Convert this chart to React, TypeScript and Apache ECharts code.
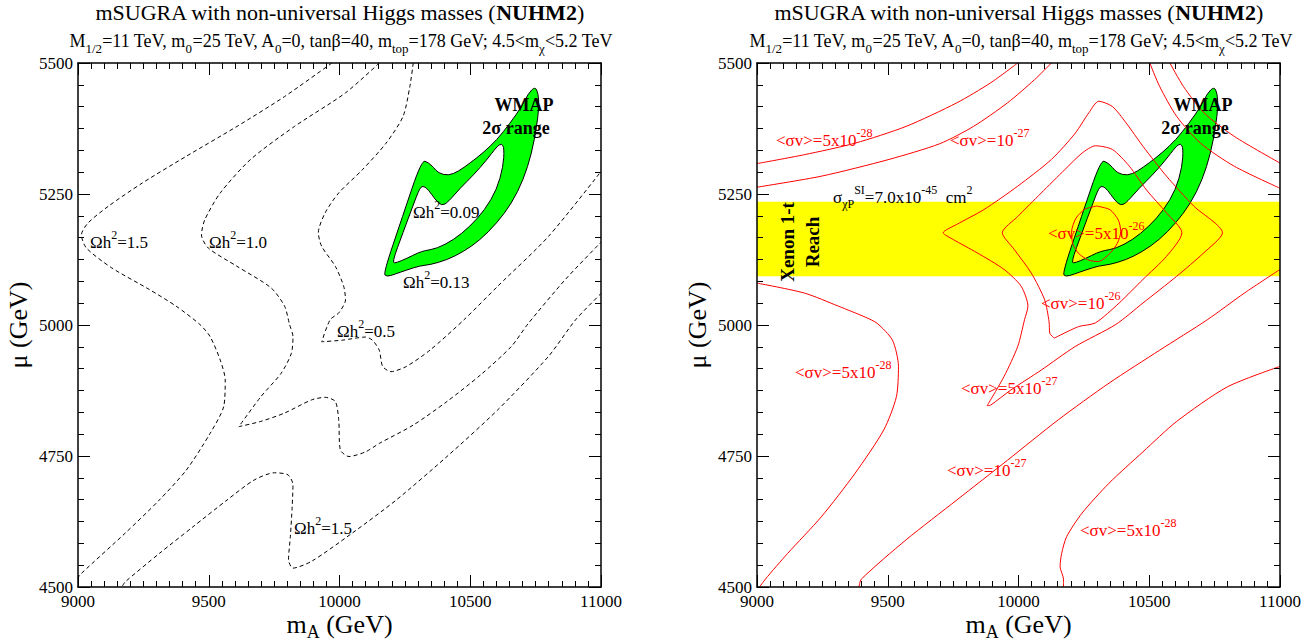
import React, { useEffect, useRef } from "react";
import * as echarts from "echarts";

const FONT = '"Liberation Serif", "Times New Roman", Times, serif';

// axes
const X_RANGE = [9000, 11000];
const Y_RANGE = [4500, 5500];
const X_STEP = 500;
const Y_STEP = 250;

// ---------- left panel: relic density contours (Omega h^2) ----------
const omega15Upper: number[][] = [
  [9971, 5500], [9790, 5436], [9608, 5379], [9414, 5322], [9246, 5271], [9117, 5227],
  [9039, 5195], [9013, 5172], [9032, 5147], [9129, 5109], [9272, 5068], [9375, 5036],
  [9466, 5001], [9505, 4978], [9544, 4933], [9563, 4895], [9557, 4844], [9505, 4793],
  [9414, 4723], [9311, 4666], [9181, 4603], [9013, 4526], [9000, 4518],
];
const omega10: number[][] = [
  [10152, 5500], [10023, 5443], [9828, 5379], [9660, 5316], [9544, 5252], [9485, 5201],
  [9472, 5172], [9498, 5147], [9608, 5112], [9738, 5071], [9790, 5036], [9809, 5001],
  [9822, 4978], [9816, 4946], [9777, 4908], [9699, 4863], [9615, 4806], [9699, 4816],
  [9790, 4832], [9893, 4857], [9945, 4862], [9984, 4854], [9997, 4819], [10003, 4762],
  [10036, 4749], [10100, 4758], [10152, 4774], [10282, 4809], [10411, 4854], [10540, 4905],
  [10657, 4959], [10722, 5003], [10864, 5087], [11000, 5158],
];
const omega05: number[][] = [
  [10282, 5500], [10269, 5455], [10243, 5398], [10178, 5347], [10087, 5296], [9997, 5252],
  [9945, 5214], [9919, 5176], [9932, 5150], [9984, 5112], [10016, 5074], [10023, 5048],
  [9997, 5023], [9964, 5010], [9932, 4968], [10010, 4971], [10100, 4977], [10126, 4971],
  [10152, 4952], [10165, 4921], [10197, 4911], [10256, 4921], [10346, 4952], [10476, 5010],
  [10605, 5074], [10799, 5169], [11000, 5293],
];
const omega15Lower: number[][] = [
  [9170, 4502], [9181, 4510], [9311, 4564], [9440, 4615], [9570, 4666], [9673, 4704],
  [9751, 4718], [9803, 4714], [9822, 4695], [9819, 4653], [9812, 4596], [9805, 4552],
  [9822, 4536], [9893, 4549], [10049, 4603], [10217, 4666], [10411, 4749], [10605, 4838],
  [10799, 4940], [10903, 5010], [11000, 5060],
];

// ---------- WMAP 2 sigma band (outer edge and inner edge) ----------
const wmapOuter: number[][] = [
  [10168, 5099], [10241, 5207], [10314, 5315], [10340, 5310], [10359, 5301], [10378, 5290],
  [10416, 5285], [10454, 5293], [10499, 5309], [10550, 5329], [10601, 5353], [10652, 5385],
  [10697, 5417], [10722, 5442], [10748, 5455], [10760, 5442], [10763, 5417], [10754, 5379],
  [10735, 5328], [10703, 5277], [10658, 5232], [10601, 5194], [10537, 5162], [10474, 5140],
  [10410, 5124], [10346, 5115], [10308, 5113], [10257, 5105], [10212, 5097], [10180, 5092],
];
const wmapInner: number[][] = [
  [10200, 5118], [10244, 5178], [10282, 5229], [10308, 5263], [10323, 5265], [10340, 5258],
  [10365, 5240], [10391, 5227], [10416, 5235], [10461, 5261], [10512, 5286], [10563, 5315],
  [10601, 5340], [10620, 5347], [10630, 5337], [10626, 5302], [10601, 5258], [10556, 5220],
  [10499, 5188], [10435, 5162], [10372, 5146], [10327, 5142], [10301, 5138], [10257, 5127],
  [10219, 5119],
];

// ---------- right panel: <sigma v> contours ----------
const sv528UpperLeft: number[][] = [
  [9000, 5308], [9181, 5325], [9375, 5347], [9570, 5379], [9764, 5424], [9893, 5462], [9997, 5500],
];
const sv27UpperLeft: number[][] = [
  [9000, 5263], [9246, 5284], [9505, 5316], [9699, 5346], [9828, 5379], [9958, 5424],
  [10061, 5468], [10126, 5500],
];
const sv27UpperRight: number[][] = [
  [10502, 5500], [10540, 5455], [10605, 5398], [10696, 5347], [10825, 5303], [11000, 5261],
];
const sv528UpperRight: number[][] = [
  [10579, 5500], [10631, 5455], [10709, 5405], [10825, 5360], [11000, 5309],
];
const sv527: number[][] = [
  [9880, 4846], [9945, 4902], [9997, 4959], [10023, 5010], [10036, 5036], [10010, 5074],
  [9945, 5106], [9841, 5138], [9751, 5163], [9712, 5176], [9764, 5192], [9867, 5220],
  [9997, 5265], [10126, 5316], [10217, 5366], [10269, 5405], [10307, 5427], [10359, 5417],
  [10411, 5386], [10476, 5341], [10566, 5284], [10670, 5227], [10780, 5176], [10709, 5138],
  [10605, 5093], [10476, 5042], [10372, 5001], [10217, 4959], [10087, 4914], [9971, 4876],
  [9893, 4847], [9880, 4846],
];
const sv26: number[][] = [
  [10137, 4975], [10120, 4984], [10117, 5006], [10100, 5048], [10049, 5099], [9984, 5144],
  [9938, 5176], [9997, 5207], [10087, 5252], [10178, 5297], [10243, 5328], [10294, 5342],
  [10359, 5335], [10424, 5303], [10489, 5258], [10566, 5214], [10625, 5176], [10566, 5131],
  [10476, 5087], [10385, 5042], [10294, 5004], [10230, 4997], [10137, 4975],
];
const sv526: number[][] = [
  [10299, 5227], [10350, 5220], [10382, 5200], [10391, 5178], [10378, 5156], [10350, 5137],
  [10305, 5121], [10267, 5124], [10229, 5137], [10207, 5156], [10203, 5178], [10220, 5204],
  [10254, 5221], [10299, 5227],
];
const sv528LowerLeft: number[][] = [
  [9000, 5080], [9181, 5061], [9311, 5036], [9414, 5015], [9460, 5003], [9518, 4971],
  [9541, 4921], [9533, 4863], [9485, 4800], [9375, 4717], [9246, 4634], [9117, 4564],
  [9032, 4515], [9010, 4500],
];
const sv528LowerRight: number[][] = [
  [10172, 4500], [10172, 4515], [10159, 4539], [10165, 4564], [10184, 4596], [10243, 4641],
  [10346, 4698], [10476, 4758], [10605, 4816], [10799, 4882], [11000, 4921],
];
const sv27Lower: number[][] = [
  [9390, 4500], [9399, 4515], [9570, 4590], [9764, 4666], [9958, 4742], [10152, 4819],
  [10346, 4889], [10540, 4952], [10722, 5010], [10864, 5061], [11000, 5106],
];

// Xenon 1-t reach band in mu
const xenonBand = [5093, 5235];

// ---------- helpers ----------
function richSet(fs: number, color: string, lh?: number) {
  const L = lh ?? Math.round(fs * 1.55);
  const s = Math.round(fs * 0.7);
  return {
    n: { fontSize: fs, fontFamily: FONT, fill: color, lineHeight: L, verticalAlign: "middle" },
    B: { fontSize: fs, fontFamily: FONT, fontWeight: "bold", fill: color, lineHeight: L, verticalAlign: "middle" },
    p: { fontSize: s, fontFamily: FONT, fill: color, lineHeight: s, verticalAlign: "top" },
    b: { fontSize: s, fontFamily: FONT, fill: color, lineHeight: s, verticalAlign: "bottom" },
  };
}

function txt(x: number, y: number, text: string, fs: number, color = "#000", align = "left", extra: any = {}) {
  return {
    type: "text",
    x,
    y,
    z: 100,
    silent: true,
    rotation: extra.rotation ?? 0,
    style: {
      text,
      rich: richSet(fs, color, extra.lh),
      fontSize: fs,
      fontFamily: FONT,
      fill: color,
      align,
      verticalAlign: "middle",
    },
  };
}

function plain(x: number, y: number, text: string, fs: number) {
  return {
    type: "text",
    x,
    y,
    z: 100,
    silent: true,
    style: { text, fontSize: fs, fontFamily: FONT, fill: "#000", align: "left", verticalAlign: "middle" },
  };
}

let measureCtx: CanvasRenderingContext2D | null = null;
function measure(text: string, fs: number) {
  if (!measureCtx) measureCtx = document.createElement("canvas").getContext("2d");
  if (!measureCtx) return text.length * fs * 0.5;
  measureCtx.font = `${fs}px ${FONT}`;
  return measureCtx.measureText(text).width;
}

// x-axis title "m_A (GeV)" centred at cx
function xTitle(cx: number, y: number) {
  const fs = 26;
  const sfs = 18;
  const w1 = measure("m", fs);
  const w2 = measure("A", sfs);
  const w3 = measure(" (GeV)", fs);
  const x0 = cx - (w1 + w2 + w3) / 2;
  return [plain(x0, y, "m", fs), plain(x0 + w1, y + 8, "A", sfs), plain(x0 + w1 + w2, y, " (GeV)", fs)];
}

function xAx(grid: number, pos: string, labels: boolean) {
  return {
    type: "value",
    gridIndex: grid,
    position: pos,
    min: X_RANGE[0],
    max: X_RANGE[1],
    interval: X_STEP,
    z: 10,
    axisLine: { show: true, onZero: false, lineStyle: { color: "#000", width: 1.5 } },
    axisTick: { show: true, inside: true, length: 12, lineStyle: { color: "#000", width: 1 } },
    minorTick: { show: true, splitNumber: 10, length: 6, lineStyle: { color: "#000", width: 1 } },
    splitLine: { show: false },
    minorSplitLine: { show: false },
    axisLabel: {
      show: labels,
      color: "#000",
      fontFamily: FONT,
      fontSize: 17,
      margin: 6,
      formatter: (v: number) => String(v),
    },
  };
}

function yAx(grid: number, pos: string, labels: boolean) {
  return {
    type: "value",
    gridIndex: grid,
    position: pos,
    min: Y_RANGE[0],
    max: Y_RANGE[1],
    interval: Y_STEP,
    z: 10,
    axisLine: { show: true, onZero: false, lineStyle: { color: "#000", width: 1.5 } },
    axisTick: { show: true, inside: true, length: 12, lineStyle: { color: "#000", width: 1 } },
    minorTick: { show: true, splitNumber: 6, length: 6, lineStyle: { color: "#000", width: 1 } },
    splitLine: { show: false },
    minorSplitLine: { show: false },
    axisLabel: {
      show: labels,
      color: "#000",
      fontFamily: FONT,
      fontSize: 17,
      margin: 5,
      formatter: (v: number) => String(v),
    },
  };
}

function lineSeries(data: number[][], idx: number, color: string, dashed: boolean) {
  return {
    type: "line",
    data,
    xAxisIndex: idx,
    yAxisIndex: idx,
    showSymbol: false,
    symbol: "none",
    smooth: 0.25,
    silent: true,
    z: 5,
    lineStyle: { color, width: 1, type: dashed ? [4, 3] : "solid" },
  };
}

function signedArea(pts: number[][]) {
  let a = 0;
  for (let i = 0; i < pts.length; i++) {
    const p = pts[i];
    const q = pts[(i + 1) % pts.length];
    a += p[0] * q[1] - q[0] * p[1];
  }
  return a;
}

function smoothRing(pts: number[][]) {
  const n = pts.length;
  const mid = (a: number[], b: number[]) => [(a[0] + b[0]) / 2, (a[1] + b[1]) / 2];
  const m0 = mid(pts[n - 1], pts[0]);
  let d = `M${m0[0].toFixed(2)} ${m0[1].toFixed(2)}`;
  for (let i = 0; i < n; i++) {
    const c = pts[i];
    const m = mid(pts[i], pts[(i + 1) % n]);
    d += ` Q${c[0].toFixed(2)} ${c[1].toFixed(2)} ${m[0].toFixed(2)} ${m[1].toFixed(2)}`;
  }
  return d + " Z";
}

function wmapSeries(idx: number) {
  return {
    type: "custom",
    xAxisIndex: idx,
    yAxisIndex: idx,
    data: [[10000, 5000]],
    z: 3,
    silent: true,
    renderItem: (_p: any, api: any) => {
      const outer = wmapOuter.map((p) => api.coord(p));
      let inner = wmapInner.map((p) => api.coord(p));
      if (Math.sign(signedArea(outer)) === Math.sign(signedArea(inner))) inner = inner.slice().reverse();
      return {
        type: "path",
        shape: { pathData: smoothRing(outer) + " " + smoothRing(inner) },
        style: { fill: "#00ff00", stroke: "#000", lineWidth: 1 },
      };
    },
  };
}

function bandSeries(idx: number) {
  return {
    type: "custom",
    xAxisIndex: idx,
    yAxisIndex: idx,
    data: [[10000, 5000]],
    z: 1,
    silent: true,
    renderItem: (_p: any, api: any) => {
      const a = api.coord([X_RANGE[0], xenonBand[1]]);
      const b = api.coord([X_RANGE[1], xenonBand[0]]);
      return {
        type: "rect",
        shape: { x: a[0], y: a[1], width: b[0] - a[0], height: b[1] - a[1] },
        style: { fill: "#ffff00" },
      };
    },
  };
}

const RED = "#ff0000";
const TITLE = "{n|mSUGRA with non-universal Higgs masses (}{B|NUHM2}{n|)}";
const SUB =
  "{n|M}{b|1/2}{n|=11 TeV, m}{b|0}{n|=25 TeV, A}{b|0}{n|=0, tanβ=40, m}{b|top}{n|=178 GeV; 4.5<m}{b|χ}{n|<5.2 TeV}";

function buildOption() {
  const graphics: any[] = [
    // titles
    txt(339.5, 12, TITLE, 22, "#000", "center"),
    txt(341, 41, SUB, 18, "#000", "center"),
    txt(1018.5, 12, TITLE, 22, "#000", "center"),
    txt(1021, 41, SUB, 18, "#000", "center"),
    // axis titles
    ...xTitle(339.5, 624),
    ...xTitle(1018.5, 624),
    txt(18, 325, "{n|μ (GeV)}", 26, "#000", "center", { rotation: Math.PI / 2 }),
    txt(697, 325, "{n|μ (GeV)}", 26, "#000", "center", { rotation: Math.PI / 2 }),
    // left panel labels
    txt(90, 242, "{n|Ωh}{p|2}{n|=1.5}", 17),
    txt(209, 242, "{n|Ωh}{p|2}{n|=1.0}", 17),
    txt(413, 212, "{n|Ωh}{p|2}{n|=0.09}", 17),
    txt(403, 282, "{n|Ωh}{p|2}{n|=0.13}", 17),
    txt(337, 331, "{n|Ωh}{p|2}{n|=0.5}", 17),
    txt(294, 528, "{n|Ωh}{p|2}{n|=1.5}", 17),
    txt(524, 105, "{B|WMAP}", 18, "#000", "center"),
    txt(516, 128, "{B|2σ range}", 18, "#000", "center"),
    // right panel labels
    txt(1203, 105, "{B|WMAP}", 18, "#000", "center"),
    txt(1195, 128, "{B|2σ range}", 18, "#000", "center"),
    txt(800, 242, "{B|Xenon 1-t}\n{B|Reach}", 19, "#000", "center", { rotation: Math.PI / 2, lh: 25 }),
    txt(833, 197, "{n|σ}{b|χP}{p|SI}{n|=7.0x10}{p|-45}{n|  cm}{p|2}", 17),
    txt(776, 140, "{n|<σv>=5x10}{p|-28}", 17, RED),
    txt(950, 140, "{n|<σv>=10}{p|-27}", 17, RED),
    txt(1048, 233, "{n|<σv>=5x10}{p|-26}", 17, RED),
    txt(1041, 303, "{n|<σv>=10}{p|-26}", 17, RED),
    txt(795, 372, "{n|<σv>=5x10}{p|-28}", 17, RED),
    txt(961, 388, "{n|<σv>=5x10}{p|-27}", 17, RED),
    txt(947, 470, "{n|<σv>=10}{p|-27}", 17, RED),
    txt(1080, 530, "{n|<σv>=5x10}{p|-28}", 17, RED),
  ];

  const series: any[] = [
    // left
    wmapSeries(0),
    lineSeries(omega15Upper, 0, "#000", true),
    lineSeries(omega10, 0, "#000", true),
    lineSeries(omega05, 0, "#000", true),
    lineSeries(omega15Lower, 0, "#000", true),
    // right
    bandSeries(2),
    wmapSeries(2),
    lineSeries(sv528UpperLeft, 2, RED, false),
    lineSeries(sv27UpperLeft, 2, RED, false),
    lineSeries(sv27UpperRight, 2, RED, false),
    lineSeries(sv528UpperRight, 2, RED, false),
    lineSeries(sv527, 2, RED, false),
    lineSeries(sv26, 2, RED, false),
    lineSeries(sv526, 2, RED, false),
    lineSeries(sv528LowerLeft, 2, RED, false),
    lineSeries(sv528LowerRight, 2, RED, false),
    lineSeries(sv27Lower, 2, RED, false),
  ];

  return {
    animation: false,
    backgroundColor: "#fff",
    grid: [
      { left: 78, top: 63, width: 523, height: 524, show: false },
      { left: 757, top: 63, width: 523, height: 524, show: false },
    ],
    xAxis: [xAx(0, "bottom", true), xAx(0, "top", false), xAx(1, "bottom", true), xAx(1, "top", false)],
    yAxis: [yAx(0, "left", true), yAx(0, "right", false), yAx(1, "left", true), yAx(1, "right", false)],
    series,
    graphic: { elements: graphics },
  };
}

export default function App() {
  const ref = useRef<HTMLDivElement>(null);
  useEffect(() => {
    if (!ref.current) return;
    const chart = echarts.init(ref.current, null, { renderer: "svg" });
    chart.setOption(buildOption() as any);
    return () => chart.dispose();
  }, []);
  return (
    <div
      ref={ref}
      style={{ position: "absolute", left: 0, top: 0, width: 1315, height: 642, background: "#fff" }}
    />
  );
}
